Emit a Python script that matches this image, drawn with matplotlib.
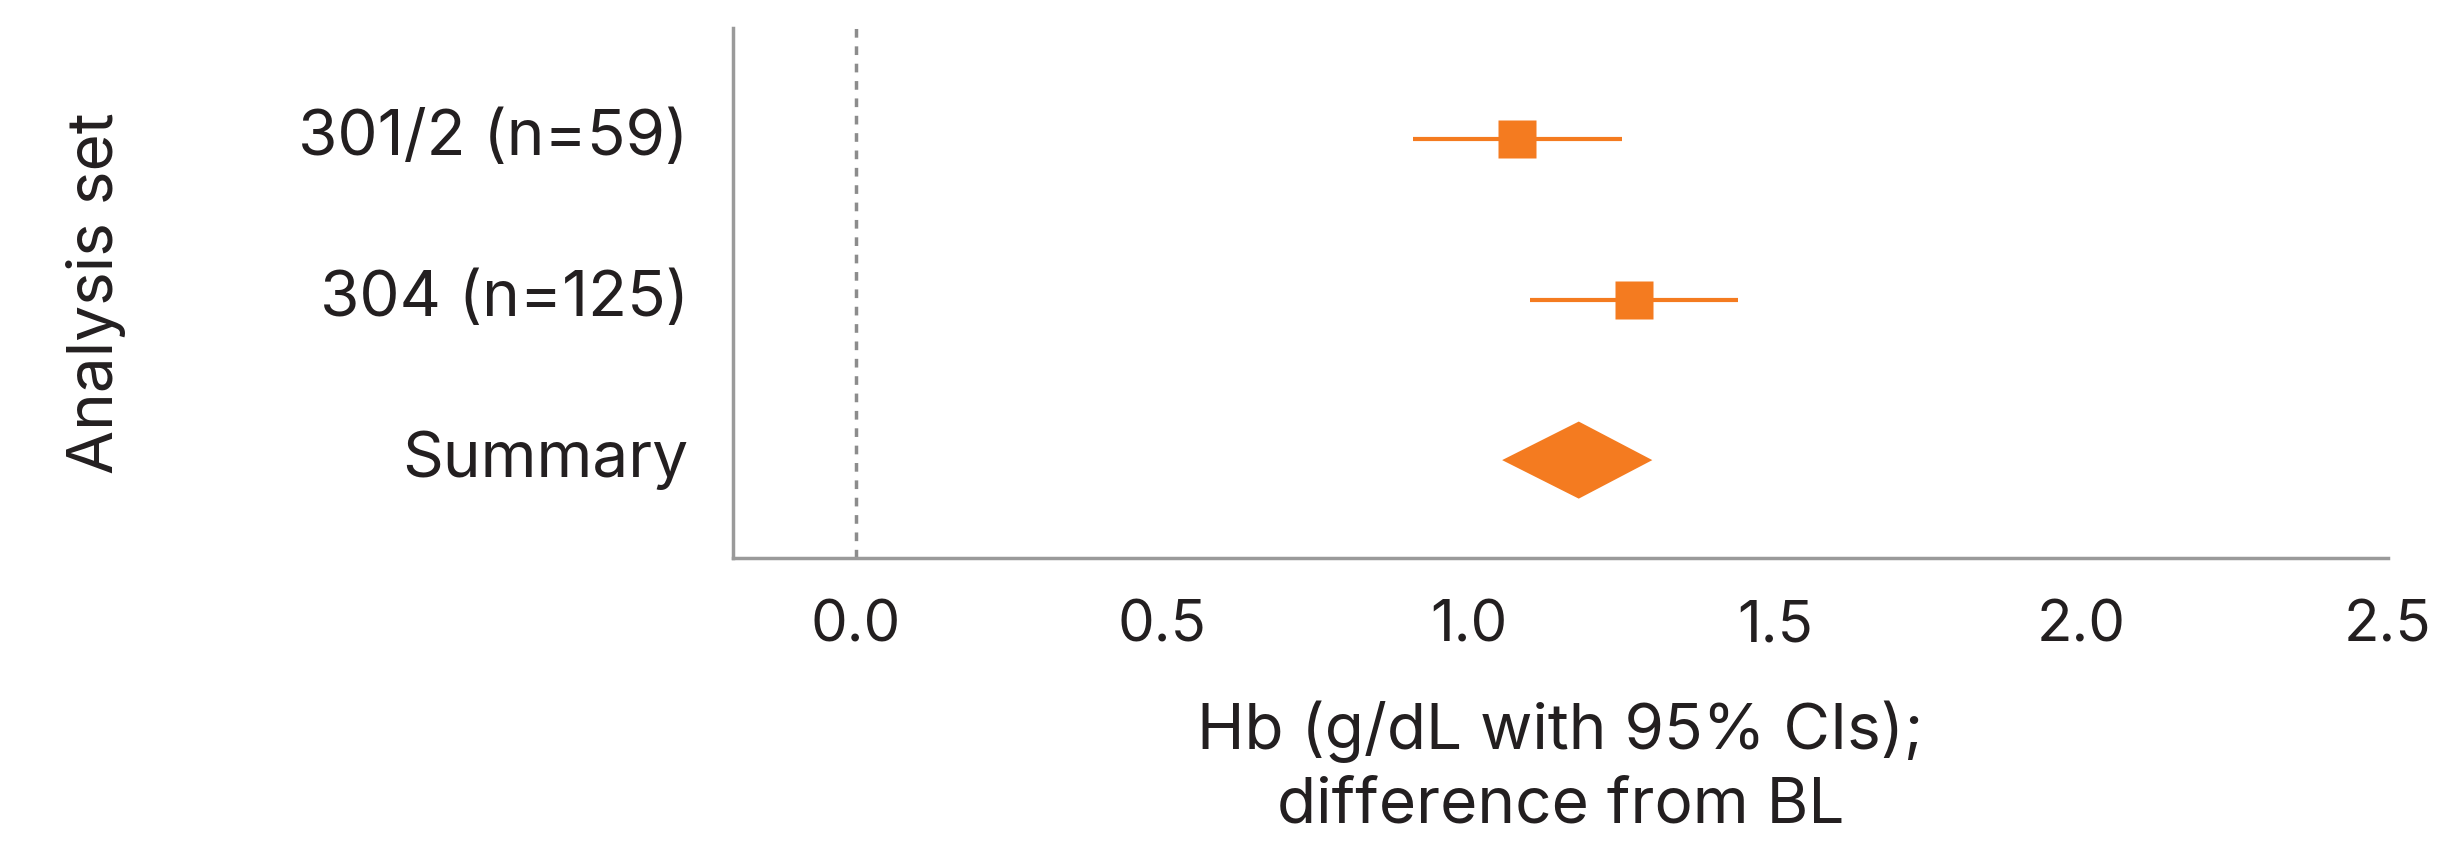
import matplotlib
matplotlib.use('Agg')
import matplotlib.pyplot as plt

# ── data ───────────────────────────────────────────────────────────────────
studies   = ['301/2 (n=59)', '304 (n=125)']
est       = [1.08, 1.27]
ci_low    = [0.91, 1.10]
ci_high   = [1.25, 1.44]

summary_label = 'Summary'
summary_est   = 1.18
summary_low   = 1.055
summary_high  = 1.30

xticks = [0.0, 0.5, 1.0, 1.5, 2.0, 2.5]

ORANGE = '#F47B20'
GREY   = '#9A9A9A'
TEXT   = '#231F20'

plt.rcParams['font.family'] = ['Inter', 'DejaVu Sans']

fig = plt.figure(figsize=(24.44, 8.52), dpi=100)
ax = fig.add_axes([0.2999, 0.345, 0.6771, 0.622])

ypos = [3, 2]
for y, m, lo, hi in zip(ypos, est, ci_low, ci_high):
    ax.plot([lo, hi], [y, y], color=ORANGE, lw=3, solid_capstyle='butt', zorder=3)
    ax.plot(m, y, marker='s', ms=28, color=ORANGE, mec='none', zorder=4)

# summary diamond
ys = 1
half_h = 0.24
ax.fill([summary_low, summary_est, summary_high, summary_est],
        [ys, ys + half_h, ys, ys - half_h], color=ORANGE, lw=0, zorder=4)

ax.axvline(0, color='#8C8C8C', lw=2.5, ls=(0, (2.5, 2.5)), zorder=1)

ax.set_xlim(-0.2, 2.5)
ax.set_ylim(0.39, 3.69)
ax.set_xticks(xticks)
ax.set_xticklabels([f'{t:.1f}' for t in xticks])
ax.set_yticks(ypos + [ys])
ax.set_yticklabels(studies + [summary_label], va='center')

for s in ('top', 'right'):
    ax.spines[s].set_visible(False)
for s in ('left', 'bottom'):
    ax.spines[s].set_color(GREY)
    ax.spines[s].set_linewidth(2.5)

ax.tick_params(axis='both', length=0, colors=TEXT)
ax.tick_params(axis='x', pad=30, labelsize=42)
ax.tick_params(axis='y', pad=32, labelsize=46)

ax.set_xlabel('Hb (g/dL with 95% CIs);\ndifference from BL', fontsize=46,
              color=TEXT, labelpad=34, linespacing=1.28)
ax.set_ylabel('Analysis set', fontsize=46, color=TEXT, labelpad=124)

fig.savefig('out.png', dpi=100, facecolor='white')
